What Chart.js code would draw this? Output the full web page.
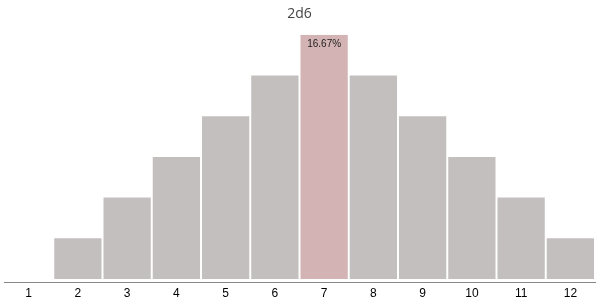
<!DOCTYPE html>
<html>
<head>
<meta charset="utf-8">
<script src="https://cdn.jsdelivr.net/npm/chart.js@4"></script>
<style>
  html, body { margin: 0; padding: 0; background: #fff; }
  #wrap { width: 600px; height: 305px; }
</style>
</head>
<body>
<div id="wrap"><canvas id="dice"></canvas></div>
<script>
// 2d6 sum distribution, in percent
const sums = ['1', '2', '3', '4', '5', '6', '7', '8', '9', '10', '11', '12'];
const percents = [0, 2.78, 5.56, 8.33, 11.11, 13.89, 16.67, 13.89, 11.11, 8.33, 5.56, 2.78];
const highlightIndex = 6;

const barColors = sums.map((s, i) => i === highlightIndex ? '#d3b3b3' : '#c4bfbf');

// writes the highlighted value inside the top of its bar
const barLabel = {
    id: 'barLabel',
    afterDatasetsDraw(chart) {
        const bar = chart.getDatasetMeta(0).data[highlightIndex];
        const ctx = chart.ctx;
        ctx.save();
        ctx.font = '10px "Liberation Sans", Arial, sans-serif';
        ctx.fillStyle = '#222';
        ctx.textAlign = 'center';
        ctx.textBaseline = 'middle';
        ctx.fillText(percents[highlightIndex].toFixed(2) + '%', bar.x, bar.y + 9);
        ctx.restore();
    }
};

new Chart(document.getElementById('dice'), {
    type: 'bar',
    data: {
        labels: sums,
        datasets: [{
            data: percents,
            backgroundColor: barColors,
            borderWidth: 0,
            barPercentage: 0.96,
            categoryPercentage: 1
        }]
    },
    options: {
        responsive: true,
        maintainAspectRatio: false,
        animation: false,
        layout: { padding: { left: 4, right: 5, top: 0, bottom: 0 } },
        plugins: {
            legend: { display: false },
            tooltip: { enabled: false },
            title: {
                display: true,
                text: '2d6',
                color: '#444',
                font: { family: '"Open Sans", sans-serif', size: 14, weight: 'normal' },
                padding: { top: 6, bottom: 12 }
            }
        },
        scales: {
            x: {
                grid: { display: false, drawTicks: false },
                border: { display: true, color: '#888', width: 1 },
                ticks: {
                    color: '#000',
                    padding: 4,
                    font: { family: '"Liberation Sans", Arial, sans-serif', size: 12 }
                }
            },
            y: {
                display: false,
                min: -0.25,
                max: 16.67
            }
        }
    },
    plugins: [barLabel]
});
</script>
</body>
</html>
